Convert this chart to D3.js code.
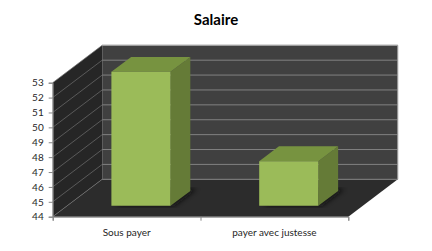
<!DOCTYPE html>
<html><head><meta charset="utf-8">
<script src="https://cdn.jsdelivr.net/npm/d3@7"></script>
<style>body{margin:0;background:#fff}svg{display:block}</style>
</head><body>
<svg id="c" width="432" height="251"></svg>
<script>
const categories = ["Sous payer", "payer avec justesse"];
const values = [53, 47];
const yTicks = [44, 45, 46, 47, 48, 49, 50, 51, 52, 53];
const title = "Salaire";

const svg = d3.select("#c");
const font = "Lato, 'Open Sans', sans-serif";
const x0 = 52.7, x1 = 348.3, yBot = 216.7, yTop = 82.7;
const DX = 49.5, DY = -37.4;
const y = d3.scaleLinear().domain([44, 53]).range([yBot, yTop]);
const x = d3.scaleBand().domain(categories).range([x0, x1]).paddingInner(0.6).paddingOuter(0.3);
const xLin = d3.scaleLinear().domain([0, categories.length]).range([x0, x1]);
const P = (px, v, z) => [px + DX * z, y(v) + DY * z];
const poly = pts => "M" + pts.map(p => p.join(",")).join("L") + "Z";

svg.append("text").attr("x", 216).attr("y", 25).attr("text-anchor", "middle")
  .attr("font-family", font).attr("font-weight", "bold").attr("font-size", 15).attr("fill", "#000").text(title);

// walls
svg.append("path").attr("d", poly([P(x0, 44, 0), P(x0, 53, 0), P(x0, 53, 1), P(x0, 44, 1)])).attr("fill", "#262626");
svg.append("path").attr("d", poly([P(x0, 44, 1), P(x0, 53, 1), P(x1, 53, 1), P(x1, 44, 1)])).attr("fill", "#404040");
svg.append("path").attr("d", poly([P(x0, 44, 0), P(x1, 44, 0), P(x1, 44, 1), P(x0, 44, 1)])).attr("fill", "#2c2c2c");

// gridlines
const g = svg.append("g");
yTicks.forEach(v => {
  g.append("line").attr("x1", P(x0, v, 1)[0]).attr("y1", P(x0, v, 1)[1]).attr("x2", P(x1, v, 1)[0]).attr("y2", P(x1, v, 1)[1])
    .attr("stroke", "#808080").attr("stroke-width", 1);
  g.append("line").attr("x1", P(x0, v, 0)[0]).attr("y1", P(x0, v, 0)[1]).attr("x2", P(x0, v, 1)[0]).attr("y2", P(x0, v, 1)[1])
    .attr("stroke", "#707070").attr("stroke-width", 0.7);
});
// back wall border right & top
svg.append("path").attr("d", "M" + P(x0, 53, 1).join(",") + "L" + P(x1, 53, 1).join(",") + "L" + P(x1, 44, 1).join(","))
  .attr("fill", "none").attr("stroke", "#a6a6a6").attr("stroke-width", 1);

// shadows
const defs = svg.append("defs");
defs.append("filter").attr("id", "blur").append("feGaussianBlur").attr("stdDeviation", 2.5);
const z0 = 0.29, z1 = 0.69;
categories.forEach((c, i) => {
  const a = x(c), b = x(c) + x.bandwidth();
  svg.append("path").attr("d", poly([P(a + 4, 44, z0), P(b + 4, 44, z0), P(b + 4, 44, z1 + 0.05), P(a + 4, 44, z1 + 0.05)]))
    .attr("fill", "#101010").attr("opacity", 0.8).attr("filter", "url(#blur)");
});

// bars
categories.forEach((c, i) => {
  const a = x(c), b = x(c) + x.bandwidth(), v = values[i];
  svg.append("path").attr("d", poly([P(b, 44, z0), P(b, v, z0), P(b, v, z1), P(b, 44, z1)])).attr("fill", "#657b37");
  svg.append("path").attr("d", poly([P(a, v, z0), P(b, v, z0), P(b, v, z1), P(a, v, z1)])).attr("fill", "#779340");
  svg.append("path").attr("d", poly([P(a, 44, z0), P(b, 44, z0), P(b, v, z0), P(a, v, z0)])).attr("fill", "#9bbb59");
});

// axes
const yAxis = svg.append("g").attr("transform", `translate(${x0},0)`)
  .call(d3.axisLeft(y).tickValues(yTicks).tickSize(4).tickPadding(5).tickFormat(d3.format("d")));
yAxis.select(".domain").attr("stroke", "#868686");
yAxis.selectAll(".tick line").attr("stroke", "#868686");
yAxis.selectAll("text").attr("font-family", font).attr("font-size", 10).attr("fill", "#262626");

const xAxis = svg.append("g").attr("transform", `translate(0,${yBot})`)
  .call(d3.axisBottom(xLin).tickValues([0, 1, 2]).tickSize(4).tickFormat(""));
xAxis.select(".domain").attr("stroke", "#868686");
xAxis.selectAll(".tick line").attr("stroke", "#868686");
const xl = svg.append("g").attr("transform", `translate(0,${yBot})`)
  .call(d3.axisBottom(x).tickSize(0).tickPadding(12));
xl.select(".domain").remove();
xl.selectAll("text").attr("font-family", font).attr("font-size", 10).attr("fill", "#262626");
</script>
</body></html>
